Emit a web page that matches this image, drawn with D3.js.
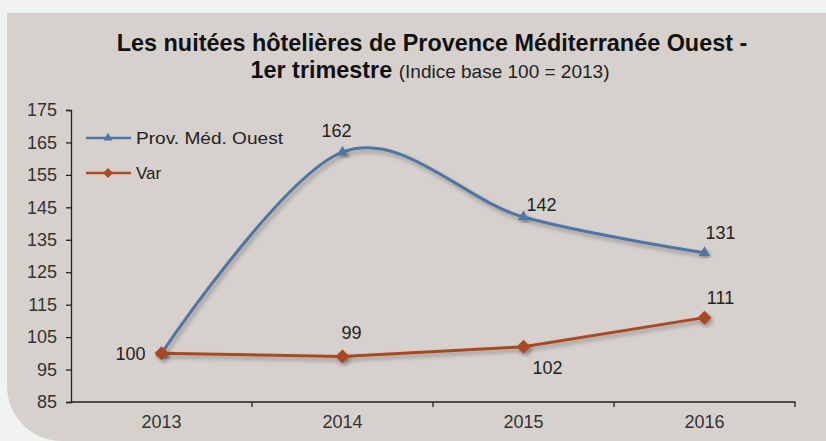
<!DOCTYPE html>
<html>
<head>
<meta charset="utf-8">
<script src="https://cdn.jsdelivr.net/npm/d3@7"></script>
<style>
  body { margin: 0; background: #f1f3f3; }
  svg { display: block; font-family: 'Liberation Sans', Arial, sans-serif; }
</style>
</head>
<body>
<div id="container"></div>
<script>
const WIDTH = 826;
const HEIGHT = 441;
const MARGIN = { TOP: 110, BOTTOM: 39, LEFT: 71, RIGHT: 31 };

const width = WIDTH - MARGIN.LEFT - MARGIN.RIGHT;
const height = HEIGHT - MARGIN.TOP - MARGIN.BOTTOM;

// donnees
const years = ['2013', '2014', '2015', '2016'];
const provMedOuest = [100, 162, 142, 131];
const varDept = [100, 99, 102, 111];
const yTicks = [85, 95, 105, 115, 125, 135, 145, 155, 165, 175];
const provLabelPos = ['none', 'above', 'right', 'aboveRight'];
const varLabelPos = ['left', 'aboveHigh', 'belowRight', 'aboveRight'];

// decalages des etiquettes selon la position
const OFFSETS = {
  left: [-31, 0],
  above: [-6, -21],
  aboveHigh: [9, -24],
  right: [18, -12],
  aboveRight: [16, -20],
  belowRight: [24, 21]
};

const series = [
  { name: 'Prov. Méd. Ouest', values: provMedOuest, color: '#4f76a3', marker: 'triangle',
    labels: provLabelPos, curve: d3.curveCardinal.tension(0) },
  { name: 'Var', values: varDept, color: '#a84a22', marker: 'diamond',
    labels: varLabelPos, curve: d3.curveLinear }
];

const svg = d3.select('#container')
  .append('svg')
    .attr('width', WIDTH)
    .attr('height', HEIGHT);

const defs = svg.append('defs');
const shadow = defs.append('filter')
  .attr('id', 'shadow')
  .attr('x', '-20%').attr('y', '-20%')
  .attr('width', '140%').attr('height', '140%');
shadow.append('feDropShadow')
  .attr('dx', 2).attr('dy', 3)
  .attr('stdDeviation', 2)
  .attr('flood-color', '#000')
  .attr('flood-opacity', 0.3);

// fond du panneau, coin bas gauche arrondi
const R = 55;
svg.append('path')
  .attr('d', `M7,13 H${WIDTH} V${HEIGHT} H${7 + R} A${R},${R} 0 0 1 7,${HEIGHT - R} Z`)
  .attr('fill', '#d6d1cd');

// titre
const title = svg.append('text')
  .attr('text-anchor', 'middle')
  .attr('fill', '#111')
  .style('font-weight', 'bold');
title.append('tspan')
  .attr('x', 432).attr('y', 51)
  .style('font-size', '23.4px')
  .text('Les nuitées hôtelières de Provence Méditerranée Ouest -');
const line2 = title.append('tspan')
  .attr('x', 430).attr('y', 78);
line2.append('tspan')
  .style('font-size', '23.4px')
  .text('1er trimestre ');
line2.append('tspan')
  .style('font-weight', 'normal')
  .style('font-size', '19px')
  .attr('fill', '#222')
  .text('(Indice base 100 = 2013)');

const g = svg.append('g')
  .attr('transform', `translate(${MARGIN.LEFT}, ${MARGIN.TOP})`);

const xscale = d3.scaleBand().domain(years).range([0, width]);
const yscale = d3.scaleLinear().domain([85, 175]).range([height, 0]);
const xc = d => xscale(d) + xscale.bandwidth() / 2;

// axes
const yAxis = g.append('g')
  .call(d3.axisLeft(yscale).tickValues(yTicks).tickSize(5).tickPadding(9));
const xAxis = g.append('g')
  .attr('transform', `translate(0, ${height})`)
  .call(d3.axisBottom(xscale).tickSize(0).tickPadding(13));

[yAxis, xAxis].forEach(a => {
  a.select('.domain').attr('stroke', '#222').attr('stroke-width', 1.3);
  a.selectAll('.tick line').attr('stroke', '#222').attr('stroke-width', 1.3);
  a.selectAll('.tick text')
    .attr('fill', '#333')
    .style('font-size', '18px')
    .style('font-family', "'Liberation Sans', Arial, sans-serif");
});
xAxis.select('.domain').attr('d', `M0,0H${width}V5`);
// graduations entre categories
xAxis.selectAll('.sep')
  .data(years.slice(1))
  .enter().append('line')
    .attr('class', 'sep')
    .attr('x1', d => xscale(d)).attr('x2', d => xscale(d))
    .attr('y1', 0).attr('y2', 5)
    .attr('stroke', '#222').attr('stroke-width', 1.3);

const markerPath = (type, big) => type === 'triangle'
  ? d3.symbol().type(d3.symbolTriangle).size(big ? 55 : 35)()
  : (big ? 'M0,-7L7,0L0,7L-7,0Z' : 'M0,-5L5,0L0,5L-5,0Z');

series.forEach(s => {
  const line = d3.line()
    .x((d, i) => xc(years[i]))
    .y(d => yscale(d))
    .curve(s.curve);

  const sg = g.append('g');
  sg.append('path')
    .datum(s.values)
    .attr('d', line)
    .attr('fill', 'none')
    .attr('stroke', s.color)
    .attr('stroke-width', 3)
    .attr('filter', 'url(#shadow)');
  sg.selectAll('.mark')
    .data(s.values)
    .enter().append('path')
      .attr('class', 'mark')
      .attr('d', markerPath(s.marker, true))
      .attr('transform', (d, i) => `translate(${xc(years[i])}, ${yscale(d)})`)
      .attr('fill', s.color)
      .attr('filter', 'url(#shadow)');

  const labelData = s.values
    .map((v, i) => ({ v, year: years[i], pos: s.labels[i] }))
    .filter(d => d.pos !== 'none');
  sg.selectAll('.lbl')
    .data(labelData)
    .enter().append('text')
      .attr('class', 'lbl')
      .attr('x', d => xc(d.year) + OFFSETS[d.pos][0])
      .attr('y', d => yscale(d.v) + OFFSETS[d.pos][1])
      .attr('dy', '0.35em')
      .attr('text-anchor', 'middle')
      .attr('fill', '#222')
      .style('font-size', '18px')
      .text(d => d.v);
});

// legende
const legend = g.append('g').attr('transform', 'translate(15, 28)');
series.forEach((s, i) => {
  const lg = legend.append('g').attr('transform', `translate(0, ${i * 35})`);
  lg.append('line')
    .attr('x1', 0).attr('x2', 45)
    .attr('stroke', s.color).attr('stroke-width', 2.5);
  lg.append('path')
    .attr('d', markerPath(s.marker, false))
    .attr('transform', 'translate(22, 0)')
    .attr('fill', s.color);
  lg.append('text')
    .attr('x', 50).attr('y', 0)
    .attr('dy', '0.35em')
    .attr('fill', '#222')
    .style('font-size', '17px')
    .attr('textLength', s.name.length > 3 ? 147 : null)
    .attr('lengthAdjust', 'spacingAndGlyphs')
    .text(s.name);
});
</script>
</body>
</html>
